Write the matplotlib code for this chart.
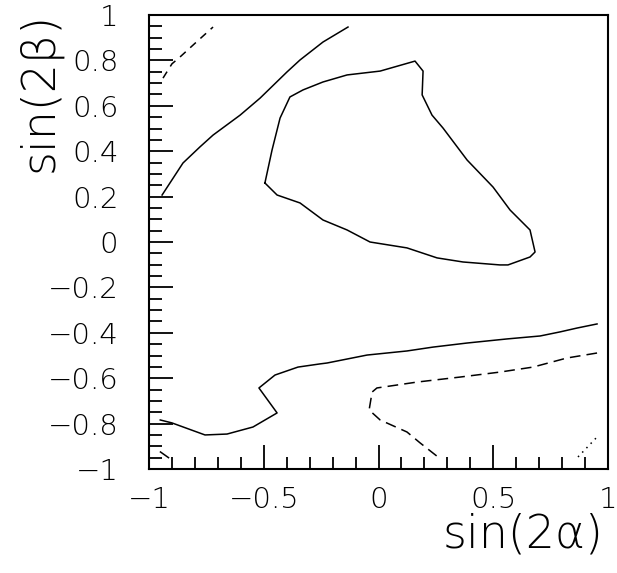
import matplotlib.pyplot as plt
from matplotlib.ticker import MultipleLocator

# contour lines: (sin2a, sin2b)
upper_x = [-0.943, -0.852, -0.778, -0.721, -0.603, -0.516, -0.399, -0.342, -0.242, -0.133]
upper_y = [0.207, 0.348, 0.419, 0.471, 0.559, 0.634, 0.749, 0.802, 0.881, 0.947]

loop_x = [-0.495, -0.464, -0.429, -0.386, -0.329, -0.242, -0.137, 0.007, 0.159, 0.194,
          0.190, 0.233, 0.281, 0.386, 0.499, 0.573, 0.660, 0.682, 0.660, 0.564,
          0.529, 0.368, 0.255, 0.124, -0.037, -0.137, -0.242, -0.342, -0.442, -0.495]
loop_y = [0.260, 0.405, 0.546, 0.639, 0.670, 0.705, 0.736, 0.753, 0.797, 0.753,
          0.648, 0.559, 0.502, 0.361, 0.242, 0.141, 0.053, -0.044, -0.066, -0.101,
          -0.101, -0.088, -0.070, -0.026, 0.0, 0.053, 0.097, 0.172, 0.207, 0.260]

lower_x = [-0.951, -0.900, -0.756, -0.660, -0.547, -0.442, -0.521, -0.451, -0.351, -0.255,
           -0.224, -0.050, 0.124, 0.237, 0.386, 0.560, 0.704, 0.791, 0.865, 0.952]
lower_y = [-0.784, -0.797, -0.850, -0.846, -0.815, -0.753, -0.643, -0.586, -0.551, -0.537,
           -0.533, -0.498, -0.480, -0.463, -0.445, -0.427, -0.414, -0.396, -0.379, -0.361]

dash_top_x = [-0.939, -0.90, -0.865, -0.80, -0.721]
dash_top_y = [0.722, 0.785, 0.815, 0.875, 0.947]

dash_low_x = [0.952, 0.821, 0.673, 0.529, 0.355, 0.168, -0.007, -0.028, -0.041, 0.007, 0.124, 0.181, 0.259]
dash_low_y = [-0.489, -0.511, -0.551, -0.573, -0.595, -0.617, -0.643, -0.661, -0.740, -0.784, -0.837, -0.885, -0.947]

dash_corner_x = [-0.95, -0.915]
dash_corner_y = [-0.925, -0.95]

dot_x = [0.869, 0.952]
dot_y = [-0.947, -0.859]

fig = plt.figure(figsize=(6.17, 5.73), dpi=100)
ax = fig.add_axes([0.2415, 0.1815, 0.744, 0.7923])

lw = 1.1
ax.plot(upper_x, upper_y, color='black', lw=lw)
ax.plot(loop_x, loop_y, color='black', lw=lw)
ax.plot(lower_x, lower_y, color='black', lw=lw)
ax.plot(dash_top_x, dash_top_y, color='black', lw=lw, dashes=(5, 4))
ax.plot(dash_low_x, dash_low_y, color='black', lw=lw, dashes=(7, 4))
ax.plot(dash_corner_x, dash_corner_y, color='black', lw=lw)
ax.plot(dot_x, dot_y, color='black', lw=lw, dashes=(1, 3))

ax.set_xlim(-1, 1)
ax.set_ylim(-1, 1)
ax.xaxis.set_major_locator(MultipleLocator(0.5))
ax.xaxis.set_minor_locator(MultipleLocator(0.1))
ax.yaxis.set_major_locator(MultipleLocator(0.2))
ax.yaxis.set_minor_locator(MultipleLocator(0.05))
ax.xaxis.set_major_formatter(plt.FuncFormatter(lambda v, p: ('%g' % v).replace('-', '\u2212')))
ax.yaxis.set_major_formatter(plt.FuncFormatter(lambda v, p: ('%g' % round(v, 2)).replace('-', '\u2212')))

ax.tick_params(which='both', direction='in', top=False, right=False, width=1.3)
ax.tick_params(which='major', length=17, labelsize=21)
ax.tick_params(axis='y', which='major', pad=22)
ax.tick_params(axis='x', which='major', pad=12)
ax.tick_params(which='minor', length=9)
for lab in ax.get_xticklabels() + ax.get_yticklabels():
    lab.set_fontweight('light')
for s in ax.spines.values():
    s.set_linewidth(1.5)

ax.set_xlabel('sin(2α)', fontsize=33, fontweight='light')
ax.xaxis.set_label_coords(0.815, -0.095)
ax.set_ylabel('sin(2β)', fontsize=33, fontweight='light')
ax.yaxis.set_label_coords(-0.19, 0.83)

fig.savefig('out.png', dpi=100)
